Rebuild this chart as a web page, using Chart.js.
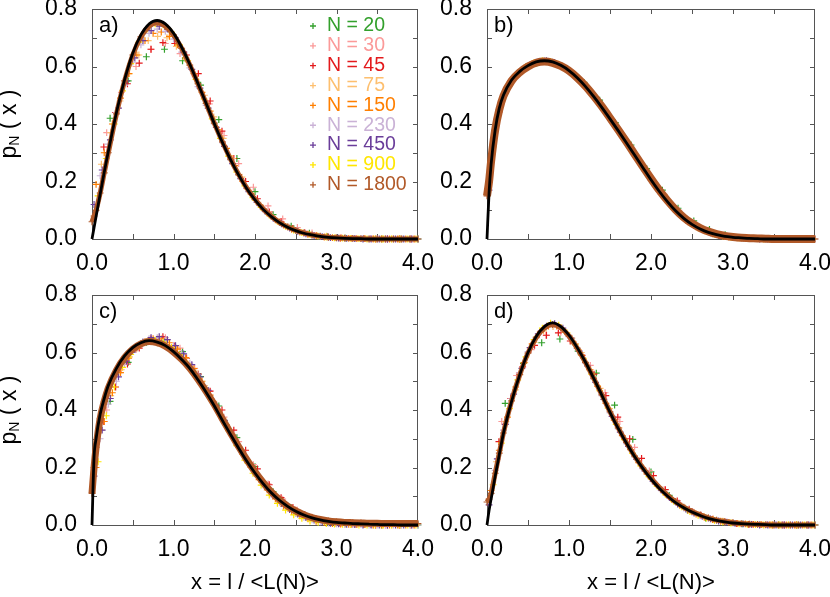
<!DOCTYPE html>
<html>
<head>
<meta charset="utf-8">
<script src="https://cdn.jsdelivr.net/npm/chart.js@4.4.1/dist/chart.umd.min.js"></script>
<style>
  html, body { margin: 0; padding: 0; background: #fff; }
  #wrap { position: relative; width: 830px; height: 597px; }
  #wrap canvas { position: absolute; left: 0; top: 0; }
</style>
</head>
<body>
<div id="wrap">
  <canvas id="pa" width="830" height="597"></canvas>
  <canvas id="pb" width="830" height="597"></canvas>
  <canvas id="pc" width="830" height="597"></canvas>
  <canvas id="pd" width="830" height="597"></canvas>
</div>
<script>
// x positions
const xCurve = [0, 0.025, 0.05, 0.1, 0.15, 0.2, 0.3, 0.4, 0.5, 0.6, 0.7, 0.8, 0.9, 1.0, 1.1, 1.2, 1.3, 1.4, 1.5, 1.6, 1.7, 1.8, 1.9, 2.0, 2.1, 2.2, 2.3, 2.4, 2.5, 2.6, 2.7, 2.8, 2.9, 3.0, 3.1, 3.2, 3.3, 3.4, 3.5, 3.6, 3.7, 3.8, 3.9, 4.0];
const x20 = [0.222, 0.444, 0.667, 0.889, 1.111, 1.333, 1.556, 1.778, 2.0, 2.222, 2.444, 2.667, 2.889, 3.111, 3.333, 3.556, 3.778, 4.0];
const x20b = [0.226, 0.417, 0.608, 0.8, 0.991, 1.183, 1.374, 1.565, 1.757, 1.948, 2.139, 2.33, 2.522, 2.713, 2.904, 3.096, 3.287, 3.478, 3.67, 3.861];
const x30 = [0.18, 0.36, 0.54, 0.72, 0.9, 1.08, 1.26, 1.44, 1.62, 1.8, 1.98, 2.16, 2.34, 2.52, 2.7, 2.88, 3.06, 3.24, 3.42, 3.6, 3.78, 3.96];
const x45 = [0.145, 0.29, 0.435, 0.58, 0.725, 0.87, 1.015, 1.16, 1.305, 1.45, 1.595, 1.74, 1.885, 2.03, 2.175, 2.32, 2.465, 2.61, 2.755, 2.9, 3.045, 3.19, 3.335, 3.48, 3.625, 3.77, 3.915];
const x75 = [0.115, 0.23, 0.345, 0.46, 0.575, 0.69, 0.805, 0.92, 1.035, 1.15, 1.265, 1.38, 1.495, 1.61, 1.725, 1.84, 1.955, 2.07, 2.185, 2.3, 2.415, 2.53, 2.645, 2.76, 2.875, 2.99, 3.105, 3.22, 3.335, 3.45, 3.565, 3.68, 3.795, 3.91];
const x150 = [0.05, 0.15, 0.25, 0.35, 0.45, 0.55, 0.65, 0.75, 0.85, 0.95, 1.05, 1.15, 1.25, 1.35, 1.45, 1.55, 1.65, 1.75, 1.85, 1.95, 2.05, 2.15, 2.25, 2.35, 2.45, 2.55, 2.65, 2.75, 2.85, 2.95, 3.05, 3.15, 3.25, 3.35, 3.45, 3.55, 3.65, 3.75, 3.85, 3.95];
const x230 = [0.1, 0.2, 0.3, 0.4, 0.5, 0.6, 0.7, 0.8, 0.9, 1.0, 1.1, 1.2, 1.3, 1.4, 1.5, 1.6, 1.7, 1.8, 1.9, 2.0, 2.1, 2.2, 2.3, 2.4, 2.5, 2.6, 2.7, 2.8, 2.9, 3.0, 3.1, 3.2, 3.3, 3.4, 3.5, 3.6, 3.7, 3.8, 3.9, 4.0];
const x450 = [0.025, 0.125, 0.225, 0.325, 0.425, 0.525, 0.625, 0.725, 0.825, 0.925, 1.025, 1.125, 1.225, 1.325, 1.425, 1.525, 1.625, 1.725, 1.825, 1.925, 2.025, 2.125, 2.225, 2.325, 2.425, 2.525, 2.625, 2.725, 2.825, 2.925, 3.025, 3.125, 3.225, 3.325, 3.425, 3.525, 3.625, 3.725, 3.825, 3.925];
const x900 = [0.075, 0.175, 0.275, 0.375, 0.475, 0.575, 0.675, 0.775, 0.875, 0.975, 1.075, 1.175, 1.275, 1.375, 1.475, 1.575, 1.675, 1.775, 1.875, 1.975, 2.075, 2.175, 2.275, 2.375, 2.475, 2.575, 2.675, 2.775, 2.875, 2.975, 3.075, 3.175, 3.275, 3.375, 3.475, 3.575, 3.675, 3.775, 3.875, 3.975];

const seriesNames = ["N = 20", "N = 30", "N = 45", "N = 75", "N = 150", "N = 230", "N = 450", "N = 900", "N = 1800"];
const seriesColors = ["#33a02c", "#fb9a99", "#e31a1c", "#fdbf6f", "#ff7f00", "#cab2d6", "#6a3d9a", "#ffe600", "#b15928"];

// panel a)
const curveA = [0, 0.039, 0.078, 0.156, 0.232, 0.304, 0.44, 0.554, 0.646, 0.71, 0.748, 0.76, 0.748, 0.716, 0.667, 0.608, 0.541, 0.472, 0.402, 0.336, 0.276, 0.222, 0.175, 0.136, 0.103, 0.078, 0.057, 0.041, 0.029, 0.02, 0.014, 0.009, 0.006, 0.004, 0.0025, 0.0016, 0.001, 0, 0, 0, 0, 0, 0, 0];
const a20 = [0.42, 0.55, 0.634, 0.66, 0.62, 0.535, 0.415, 0.28, 0.165, 0.085, 0.045, 0.02, 0.008, 0.003, 0.001, 0, 0, 0];
const a30 = [0.37, 0.51, 0.6, 0.66, 0.68, 0.645, 0.57, 0.47, 0.36, 0.262, 0.18, 0.115, 0.07, 0.04, 0.021, 0.01, 0.005, 0.002, 0.001, 0, 0, 0];
const a45 = [0.32, 0.44, 0.54, 0.612, 0.66, 0.683, 0.68, 0.64, 0.575, 0.48, 0.375, 0.28, 0.2, 0.14, 0.094, 0.06, 0.037, 0.022, 0.012, 0.007, 0.003, 0.002, 0.001, 0, 0, 0, 0];
const a75 = [0.26, 0.37, 0.48, 0.575, 0.64, 0.69, 0.705, 0.7, 0.67, 0.625, 0.565, 0.5, 0.425, 0.35, 0.28, 0.215, 0.16, 0.118, 0.085, 0.06, 0.042, 0.028, 0.018, 0.012, 0.008, 0.005, 0.003, 0.002, 0.001, 0.001, 0, 0, 0, 0];
const a150 = [0.19, 0.3, 0.4, 0.49, 0.575, 0.64, 0.69, 0.715, 0.72, 0.705, 0.675, 0.63, 0.575, 0.51, 0.445, 0.38, 0.315, 0.255, 0.2, 0.157, 0.12, 0.09, 0.067, 0.048, 0.034, 0.024, 0.016, 0.011, 0.007, 0.005, 0.003, 0.002, 0.001, 0.001, 0, 0, 0, 0, 0, 0];
const a230 = [0.22, 0.33, 0.44, 0.535, 0.615, 0.675, 0.715, 0.73, 0.722, 0.695, 0.65, 0.595, 0.53, 0.465, 0.4, 0.335, 0.275, 0.222, 0.175, 0.136, 0.104, 0.078, 0.057, 0.041, 0.029, 0.02, 0.014, 0.009, 0.006, 0.004, 0.003, 0.002, 0.001, 0, 0, 0, 0, 0, 0, 0];
const a450 = [0.12, 0.24, 0.345, 0.455, 0.55, 0.63, 0.69, 0.725, 0.74, 0.73, 0.7, 0.65, 0.59, 0.525, 0.455, 0.388, 0.322, 0.262, 0.21, 0.165, 0.127, 0.096, 0.072, 0.053, 0.038, 0.027, 0.018, 0.012, 0.008, 0.005, 0.003, 0.002, 0.001, 0, 0, 0, 0, 0, 0, 0];
const a900 = [0.15, 0.28, 0.4, 0.515, 0.61, 0.685, 0.73, 0.748, 0.745, 0.72, 0.675, 0.62, 0.555, 0.487, 0.418, 0.35, 0.288, 0.233, 0.185, 0.144, 0.11, 0.083, 0.061, 0.044, 0.031, 0.022, 0.015, 0.01, 0.007, 0.004, 0.003, 0.002, 0.001, 0, 0, 0, 0, 0, 0, 0];
const a1800 = [0.06, 0.08, 0.1, 0.16, 0.23, 0.3, 0.435, 0.55, 0.64, 0.703, 0.74, 0.752, 0.74, 0.71, 0.663, 0.605, 0.54, 0.472, 0.403, 0.338, 0.278, 0.224, 0.177, 0.138, 0.105, 0.079, 0.058, 0.042, 0.03, 0.021, 0.014, 0.01, 0.006, 0.004, 0.003, 0.002, 0.001, 0, 0, 0, 0, 0, 0, 0];

// panel b)
const curveB = [0, 0.16, 0.26, 0.38, 0.455, 0.5, 0.553, 0.583, 0.603, 0.616, 0.62, 0.616, 0.604, 0.586, 0.561, 0.531, 0.496, 0.458, 0.418, 0.377, 0.335, 0.292, 0.249, 0.206, 0.166, 0.13, 0.098, 0.072, 0.051, 0.035, 0.023, 0.015, 0.009, 0.006, 0.004, 0.002, 0.001, 0, 0, 0, 0, 0, 0, 0];
const b20 = [0.515, 0.585, 0.612, 0.612, 0.59, 0.545, 0.483, 0.405, 0.327, 0.245, 0.17, 0.107, 0.063, 0.033, 0.015, 0.006, 0.002, 0.001, 0, 0];
const b30 = [0.48, 0.57, 0.605, 0.617, 0.603, 0.567, 0.512, 0.445, 0.372, 0.297, 0.222, 0.155, 0.1, 0.058, 0.03, 0.014, 0.006, 0.002, 0.001, 0, 0, 0];
const b45 = [0.44, 0.55, 0.59, 0.612, 0.618, 0.607, 0.582, 0.545, 0.496, 0.44, 0.382, 0.32, 0.258, 0.197, 0.142, 0.095, 0.06, 0.036, 0.02, 0.01, 0.005, 0.002, 0.001, 0, 0, 0, 0];
const b75 = [0.4, 0.515, 0.567, 0.595, 0.612, 0.619, 0.615, 0.601, 0.578, 0.547, 0.508, 0.466, 0.42, 0.374, 0.325, 0.276, 0.228, 0.18, 0.136, 0.1, 0.07, 0.047, 0.03, 0.019, 0.011, 0.006, 0.003, 0.002, 0.001, 0, 0, 0, 0, 0];
const b150 = [0.27, 0.45, 0.525, 0.57, 0.594, 0.61, 0.618, 0.618, 0.61, 0.595, 0.574, 0.546, 0.513, 0.477, 0.438, 0.398, 0.356, 0.313, 0.27, 0.228, 0.186, 0.148, 0.113, 0.084, 0.06, 0.042, 0.028, 0.018, 0.012, 0.007, 0.004, 0.002, 0.001, 0.001, 0, 0, 0, 0, 0, 0];
const b230 = [0.38, 0.5, 0.553, 0.583, 0.603, 0.616, 0.62, 0.616, 0.604, 0.586, 0.561, 0.531, 0.496, 0.458, 0.418, 0.377, 0.335, 0.292, 0.249, 0.206, 0.166, 0.13, 0.098, 0.072, 0.051, 0.035, 0.023, 0.015, 0.009, 0.006, 0.004, 0.002, 0.001, 0, 0, 0, 0, 0, 0, 0];
const b450 = [0.17, 0.42, 0.515, 0.562, 0.588, 0.606, 0.617, 0.62, 0.614, 0.6, 0.58, 0.554, 0.522, 0.487, 0.448, 0.408, 0.367, 0.324, 0.281, 0.238, 0.196, 0.156, 0.121, 0.091, 0.066, 0.047, 0.032, 0.021, 0.013, 0.008, 0.005, 0.003, 0.002, 0, 0, 0, 0, 0, 0, 0];
const b900 = [0.32, 0.48, 0.545, 0.578, 0.6, 0.613, 0.62, 0.618, 0.608, 0.591, 0.568, 0.539, 0.505, 0.468, 0.428, 0.387, 0.346, 0.303, 0.26, 0.217, 0.175, 0.138, 0.105, 0.078, 0.056, 0.039, 0.026, 0.017, 0.01, 0.006, 0.004, 0.002, 0.001, 0, 0, 0, 0, 0, 0, 0];
const b1800 = [0.15, 0.2, 0.27, 0.38, 0.45, 0.497, 0.55, 0.58, 0.6, 0.613, 0.617, 0.613, 0.602, 0.585, 0.561, 0.532, 0.498, 0.461, 0.421, 0.38, 0.338, 0.295, 0.252, 0.21, 0.17, 0.134, 0.102, 0.075, 0.054, 0.038, 0.026, 0.017, 0.011, 0.007, 0.004, 0.003, 0.002, 0.001, 0, 0, 0, 0, 0, 0];

// panel c)
const curveC = [0, 0.235, 0.3, 0.385, 0.44, 0.485, 0.545, 0.588, 0.617, 0.634, 0.641, 0.636, 0.624, 0.603, 0.576, 0.545, 0.505, 0.462, 0.415, 0.364, 0.315, 0.267, 0.222, 0.181, 0.144, 0.112, 0.086, 0.065, 0.048, 0.035, 0.025, 0.018, 0.013, 0.009, 0.007, 0.005, 0.004, 0.003, 0.002, 0.001, 0.001, 0, 0, 0];
const c20 = [0.43, 0.566, 0.635, 0.64, 0.603, 0.516, 0.414, 0.304, 0.203, 0.116, 0.06, 0.027, 0.011, 0.004, 0.001, 0, 0, 0];
const c30 = [0.4, 0.54, 0.61, 0.65, 0.652, 0.615, 0.545, 0.465, 0.375, 0.29, 0.21, 0.143, 0.09, 0.052, 0.027, 0.013, 0.006, 0.002, 0.001, 0, 0, 0];
const c45 = [0.36, 0.48, 0.56, 0.615, 0.645, 0.655, 0.623, 0.58, 0.525, 0.466, 0.4, 0.33, 0.26, 0.195, 0.14, 0.095, 0.061, 0.037, 0.021, 0.011, 0.005, 0.002, 0.001, 0, 0, 0, 0];
const c75 = [0.33, 0.45, 0.53, 0.585, 0.622, 0.643, 0.65, 0.64, 0.615, 0.58, 0.535, 0.485, 0.43, 0.372, 0.315, 0.26, 0.207, 0.16, 0.12, 0.087, 0.061, 0.041, 0.027, 0.017, 0.01, 0.006, 0.003, 0.002, 0.001, 0, 0, 0, 0, 0];
const c150 = [0.2, 0.36, 0.46, 0.53, 0.58, 0.615, 0.638, 0.648, 0.647, 0.634, 0.612, 0.582, 0.544, 0.5, 0.452, 0.4, 0.348, 0.296, 0.246, 0.2, 0.158, 0.122, 0.091, 0.066, 0.047, 0.032, 0.021, 0.013, 0.008, 0.005, 0.003, 0.002, 0.001, 0.001, 0, 0, 0, 0, 0, 0];
const c230 = [0.3, 0.42, 0.5, 0.56, 0.603, 0.632, 0.648, 0.652, 0.645, 0.625, 0.598, 0.563, 0.522, 0.476, 0.426, 0.373, 0.321, 0.27, 0.222, 0.178, 0.139, 0.106, 0.079, 0.057, 0.04, 0.027, 0.018, 0.011, 0.007, 0.004, 0.002, 0.001, 0.001, 0, 0, 0, 0, 0, 0, 0];
const c450 = [0.17, 0.33, 0.44, 0.515, 0.57, 0.61, 0.637, 0.652, 0.655, 0.645, 0.624, 0.595, 0.558, 0.515, 0.468, 0.417, 0.364, 0.312, 0.262, 0.215, 0.172, 0.134, 0.102, 0.075, 0.054, 0.038, 0.026, 0.017, 0.011, 0.006, 0.004, 0.002, 0.001, 0, 0, 0, 0, 0, 0, 0];
const c900 = [0.22, 0.38, 0.48, 0.548, 0.593, 0.622, 0.638, 0.643, 0.636, 0.618, 0.592, 0.56, 0.521, 0.478, 0.431, 0.38, 0.328, 0.276, 0.226, 0.18, 0.139, 0.104, 0.075, 0.052, 0.035, 0.023, 0.014, 0.009, 0.005, 0.003, 0.002, 0.001, 0, 0, 0, 0, 0, 0, 0, 0];
const c1800 = [0.11, 0.2, 0.27, 0.37, 0.43, 0.476, 0.538, 0.582, 0.612, 0.63, 0.638, 0.634, 0.622, 0.602, 0.576, 0.545, 0.507, 0.465, 0.419, 0.369, 0.32, 0.272, 0.227, 0.185, 0.148, 0.115, 0.088, 0.066, 0.049, 0.036, 0.026, 0.019, 0.014, 0.011, 0.009, 0.008, 0.007, 0.006, 0.006, 0.005, 0.005, 0.005, 0.005, 0.005];

// panel d)
const curveD = [0, 0.05, 0.09, 0.17, 0.245, 0.318, 0.43, 0.523, 0.6, 0.656, 0.69, 0.703, 0.69, 0.66, 0.617, 0.567, 0.511, 0.452, 0.392, 0.336, 0.285, 0.238, 0.197, 0.16, 0.128, 0.101, 0.078, 0.06, 0.045, 0.033, 0.023, 0.016, 0.011, 0.007, 0.0045, 0.003, 0.002, 0.001, 0, 0, 0, 0, 0, 0];
const d20 = [0.423, 0.562, 0.634, 0.647, 0.605, 0.528, 0.417, 0.298, 0.185, 0.103, 0.052, 0.024, 0.01, 0.004, 0.001, 0, 0, 0];
const d30 = [0.36, 0.52, 0.61, 0.66, 0.67, 0.63, 0.555, 0.46, 0.36, 0.27, 0.188, 0.123, 0.077, 0.045, 0.025, 0.012, 0.006, 0.002, 0.001, 0, 0, 0];
const d45 = [0.29, 0.44, 0.55, 0.625, 0.66, 0.668, 0.64, 0.59, 0.525, 0.45, 0.375, 0.3, 0.232, 0.172, 0.123, 0.084, 0.055, 0.034, 0.02, 0.011, 0.005, 0.002, 0.001, 0, 0, 0, 0];
const d75 = [0.22, 0.36, 0.47, 0.565, 0.635, 0.675, 0.69, 0.68, 0.65, 0.6, 0.54, 0.475, 0.405, 0.338, 0.277, 0.224, 0.178, 0.14, 0.107, 0.081, 0.06, 0.043, 0.03, 0.02, 0.013, 0.008, 0.005, 0.003, 0.002, 0.001, 0, 0, 0, 0];
const d150 = [0.12, 0.26, 0.375, 0.48, 0.565, 0.63, 0.672, 0.692, 0.692, 0.672, 0.637, 0.592, 0.54, 0.482, 0.423, 0.365, 0.311, 0.262, 0.217, 0.178, 0.144, 0.114, 0.089, 0.068, 0.051, 0.038, 0.027, 0.019, 0.013, 0.009, 0.006, 0.004, 0.002, 0.001, 0, 0, 0, 0, 0, 0];
const d230 = [0.19, 0.33, 0.44, 0.53, 0.603, 0.655, 0.686, 0.697, 0.685, 0.655, 0.613, 0.563, 0.508, 0.45, 0.39, 0.334, 0.283, 0.237, 0.196, 0.16, 0.128, 0.101, 0.078, 0.059, 0.044, 0.032, 0.023, 0.016, 0.011, 0.007, 0.004, 0.003, 0.002, 0, 0, 0, 0, 0, 0, 0];
const d450 = [0.07, 0.23, 0.35, 0.455, 0.545, 0.617, 0.665, 0.692, 0.7, 0.685, 0.65, 0.605, 0.553, 0.496, 0.437, 0.378, 0.323, 0.273, 0.228, 0.188, 0.152, 0.121, 0.095, 0.073, 0.055, 0.041, 0.03, 0.021, 0.014, 0.01, 0.006, 0.004, 0.002, 0, 0, 0, 0, 0, 0, 0];
const d900 = [0.14, 0.285, 0.405, 0.505, 0.585, 0.645, 0.685, 0.702, 0.695, 0.668, 0.628, 0.58, 0.525, 0.467, 0.407, 0.35, 0.297, 0.249, 0.206, 0.168, 0.135, 0.107, 0.083, 0.063, 0.047, 0.034, 0.024, 0.016, 0.011, 0.007, 0.004, 0.002, 0.001, 0, 0, 0, 0, 0, 0, 0];
const d1800 = [0.08, 0.09, 0.11, 0.18, 0.25, 0.32, 0.432, 0.523, 0.598, 0.652, 0.685, 0.697, 0.686, 0.657, 0.615, 0.566, 0.511, 0.453, 0.394, 0.338, 0.287, 0.24, 0.199, 0.163, 0.131, 0.104, 0.081, 0.062, 0.047, 0.035, 0.025, 0.017, 0.012, 0.008, 0.005, 0.003, 0.002, 0.001, 0, 0, 0, 0, 0, 0];

const FONT = "'Liberation Sans', Arial, Helvetica, sans-serif";
Chart.defaults.font.family = FONT;

const pts = (xs, ys) => xs.map((x, i) => ({ x: x, y: ys[i] }));

// gnuplot style box with inward ticks
const framePlugin = {
  id: "frame",
  beforeDatasetsDraw(chart) {
    const { ctx, chartArea: a, scales } = chart;
    ctx.save();
    ctx.strokeStyle = "#555";
    ctx.lineWidth = 1;
    ctx.strokeRect(a.left + 0.5, a.top + 0.5, a.right - a.left - 1, a.bottom - a.top);
    ctx.beginPath();
    for (let k = 1; k < 8; k++) {
      const px = Math.round(scales.x.getPixelForValue(k / 2)) + 0.5;
      ctx.moveTo(px, a.bottom); ctx.lineTo(px, a.bottom - 5);
      ctx.moveTo(px, a.top); ctx.lineTo(px, a.top + 5);
    }
    for (let k = 1; k < 8; k++) {
      const py = Math.round(scales.y.getPixelForValue(k / 10)) + 0.5;
      ctx.moveTo(a.left, py); ctx.lineTo(a.left + 5, py);
      ctx.moveTo(a.right, py); ctx.lineTo(a.right - 5, py);
    }
    ctx.stroke();
    ctx.restore();
  }
};

const textPlugin = (p) => ({
  id: "panelText",
  afterDraw(chart) {
    const { ctx, chartArea: a } = chart;
    ctx.save();
    ctx.fillStyle = "#000";
    ctx.font = "22px " + FONT;
    ctx.textAlign = "left";
    ctx.textBaseline = "alphabetic";
    ctx.fillText(p.letter, a.left + 7, a.top + 23);

    if (p.yTitle) {
      ctx.save();
      ctx.translate(16, (a.top + a.bottom) / 2);
      ctx.rotate(-Math.PI / 2);
      const big = "23px " + FONT, small = "14px " + FONT;
      ctx.font = big; const w1 = ctx.measureText("p").width, w3 = ctx.measureText(" ( x )").width;
      ctx.font = small; const w2 = ctx.measureText("N").width;
      let x = -(w1 + w2 + w3) / 2;
      ctx.font = big; ctx.fillText("p", x, 0); x += w1;
      ctx.font = small; ctx.fillText("N", x, 3); x += w2;
      ctx.font = big; ctx.fillText(" ( x )", x, 0);
      ctx.restore();
    }
    if (p.xTitle) {
      ctx.font = "22px " + FONT;
      ctx.textAlign = "center";
      ctx.textBaseline = "middle";
      ctx.fillText("x = l / <L(N)>", (a.left + a.right) / 2, 583);
    }
    if (p.legend) {
      ctx.font = "19.5px " + FONT;
      ctx.textAlign = "left";
      ctx.textBaseline = "middle";
      seriesNames.forEach((name, i) => {
        const y = 26 + i * 19.85;
        ctx.strokeStyle = seriesColors[i];
        ctx.lineWidth = 1.3;
        ctx.beginPath();
        ctx.moveTo(310, y); ctx.lineTo(316, y);
        ctx.moveTo(313, y - 3); ctx.lineTo(313, y + 3);
        ctx.stroke();
        ctx.fillStyle = seriesColors[i];
        ctx.fillText(name, 327, y);
      });
    }
    ctx.restore();
  }
});

const makeDatasets = (p) => {
  const grids = [p.x20, x30, x45, x75, x150, x230, x450, x900, xCurve];
  const ds = [{
    label: "fit",
    data: pts(xCurve, p.curve),
    showLine: true,
    borderColor: "#000",
    borderWidth: 2.8,
    pointRadius: 0,
    cubicInterpolationMode: "monotone",
    order: 0,
    clip: false
  }];
  p.series.forEach((ys, i) => {
    const band = i === 8;
    ds.push({
      label: seriesNames[i],
      data: pts(grids[i], ys),
      showLine: band,
      borderColor: seriesColors[i],
      backgroundColor: seriesColors[i],
      borderWidth: band ? p.bandW : 1.2,
      cubicInterpolationMode: "monotone",
      pointStyle: "cross",
      pointRadius: 3.4,
      pointBorderWidth: 1.2,
      order: 9 - i,
      clip: false
    });
  });
  return ds;
};

const panels = [
  { id: "pa", letter: "a)", pad: { left: 0, right: 412, top: 9, bottom: 318 }, axisW: 92, yTitle: true, xTitle: false, legend: true, bandW: 5,
    x20: x20, curve: curveA, series: [a20, a30, a45, a75, a150, a230, a450, a900, a1800] },
  { id: "pb", letter: "b)", pad: { left: 427, right: 15, top: 9, bottom: 318 }, axisW: 60, yTitle: false, xTitle: false, legend: false, bandW: 8,
    x20: x20b, curve: curveB, series: [b20, b30, b45, b75, b150, b230, b450, b900, b1800] },
  { id: "pc", letter: "c)", pad: { left: 0, right: 412, top: 295, bottom: 32 }, axisW: 92, yTitle: true, xTitle: true, legend: false, bandW: 7,
    x20: x20, curve: curveC, series: [c20, c30, c45, c75, c150, c230, c450, c900, c1800] },
  { id: "pd", letter: "d)", pad: { left: 427, right: 15, top: 295, bottom: 32 }, axisW: 60, yTitle: false, xTitle: true, legend: false, bandW: 5,
    x20: x20, curve: curveD, series: [d20, d30, d45, d75, d150, d230, d450, d900, d1800] }
];

panels.forEach((p) => {
  new Chart(document.getElementById(p.id), {
    type: "scatter",
    data: { datasets: makeDatasets(p) },
    options: {
      responsive: false,
      animation: false,
      events: [],
      layout: { padding: p.pad },
      plugins: { legend: { display: false }, tooltip: { enabled: false } },
      scales: {
        x: {
          type: "linear", min: 0, max: 4,
          grid: { display: false, drawTicks: false },
          border: { display: false },
          ticks: {
            stepSize: 0.5, autoSkip: false, maxRotation: 0, padding: 11, color: "#000",
            font: { size: 23 },
            callback: (v) => (Math.abs(v - Math.round(v)) < 1e-6 ? Number(v).toFixed(1) : "")
          },
          afterFit: (s) => { s.height = 40; s.paddingLeft = 0; s.paddingRight = 0; }
        },
        y: {
          type: "linear", min: 0, max: 0.8,
          grid: { display: false, drawTicks: false },
          border: { display: false },
          ticks: {
            stepSize: 0.1, autoSkip: false, padding: 15, color: "#000",
            font: { size: 23 },
            callback: (v) => { const k = Math.round(v * 10); return k % 2 === 0 ? (k / 10).toFixed(1) : ""; }
          },
          afterFit: (s) => { s.width = p.axisW; s.paddingTop = 0; s.paddingBottom = 0; }
        }
      }
    },
    plugins: [framePlugin, textPlugin(p)]
  });
});
</script>
</body>
</html>
